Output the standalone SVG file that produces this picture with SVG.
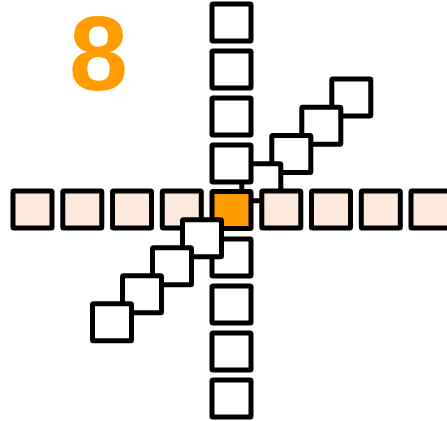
<svg xmlns="http://www.w3.org/2000/svg" width="447" height="421" viewBox="0 0 447 421">
<style>
.sq{stroke:#000;stroke-width:5;stroke-linejoin:round}
.w{fill:#fff}
.p{fill:#fde9db}
.o{fill:#ff9c00}
.t{font-family:"Liberation Sans",Arial,sans-serif;font-weight:bold;font-size:106px;fill:#ff9c00}
</style>
<rect width="447" height="421" fill="#fff"/>
<text class="t" x="98.5" y="89.5" text-anchor="middle">8</text>
<g id="connectors"/>
<g id="diag-up">
<g id="u4"><rect class="sq w" x="331.8" y="79" width="39" height="37" rx="1"/></g>
<g id="u3"><rect class="sq w" x="301.8" y="107.3" width="39" height="37" rx="1"/></g>
<g id="u2"><rect class="sq w" x="271.8" y="135.5" width="39" height="37" rx="1"/></g>
<g id="u1"><rect class="sq w" x="241.8" y="163.8" width="39" height="37" rx="1"/></g>
</g>
<g id="column">
<g id="c0"><rect class="sq w" x="212" y="4" width="39" height="37" rx="1"/></g>
<g id="c1"><rect class="sq w" x="212" y="51" width="39" height="37" rx="1"/></g>
<g id="c2"><rect class="sq w" x="212" y="98" width="39" height="37" rx="1"/></g>
<g id="c3"><rect class="sq w" x="212" y="145" width="39" height="37" rx="1"/></g>
<g id="c5"><rect class="sq w" x="212" y="239" width="39" height="37" rx="1"/></g>
<g id="c6"><rect class="sq w" x="212" y="286" width="39" height="37" rx="1"/></g>
<g id="c7"><rect class="sq w" x="212" y="333" width="39" height="37" rx="1"/></g>
<g id="c8"><rect class="sq w" x="212" y="380" width="39" height="37" rx="1"/></g>
</g>
<g id="row">
<g id="r0"><rect class="sq p" x="13" y="191" width="39" height="37" rx="1"/></g>
<g id="r1"><rect class="sq p" x="62.8" y="191" width="39" height="37" rx="1"/></g>
<g id="r2"><rect class="sq p" x="112.5" y="191" width="39" height="37" rx="1"/></g>
<g id="r3"><rect class="sq p" x="162.3" y="191" width="39" height="37" rx="1"/></g>
<g id="center"><rect class="sq o" x="212" y="191.5" width="39" height="37" rx="1"/></g>
<g id="r5"><rect class="sq p" x="261.8" y="191" width="39" height="37" rx="1"/></g>
<g id="r6"><rect class="sq p" x="311.5" y="191" width="39" height="37" rx="1"/></g>
<g id="r7"><rect class="sq p" x="361.3" y="191" width="39" height="37" rx="1"/></g>
<g id="r8"><rect class="sq p" x="411" y="191" width="39" height="37" rx="1"/></g>
</g>
<g id="diag-down">
<g id="d1"><rect class="sq w" x="182.5" y="219.8" width="39" height="37" rx="1"/></g>
<g id="d2"><rect class="sq w" x="152.5" y="247.8" width="39" height="37" rx="1"/></g>
<g id="d3"><rect class="sq w" x="122.5" y="275.8" width="39" height="37" rx="1"/></g>
<g id="d4"><rect class="sq w" x="92.5" y="303.8" width="39" height="37" rx="1"/></g>
</g>
</svg>
